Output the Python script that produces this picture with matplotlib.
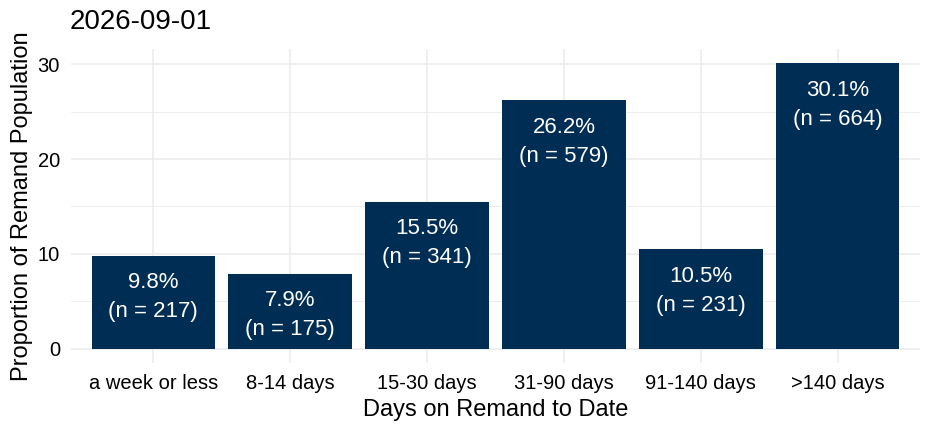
import matplotlib
matplotlib.use("Agg")
import matplotlib.pyplot as plt

categories = ["a week or less", "8-14 days", "15-30 days", "31-90 days", "91-140 days", ">140 days"]
percent = [9.8, 7.9, 15.5, 26.2, 10.5, 30.1]
counts = [217, 175, 341, 579, 231, 664]

plt.rcParams["font.family"] = ["Liberation Sans", "DejaVu Sans"]

fig = plt.figure(figsize=(9.3, 4.28), dpi=100)
ax = fig.add_axes([71 / 930, 1 - 363 / 428, (920 - 71) / 930, (363 - 49) / 428])

x = list(range(len(categories)))
ax.bar(x, percent, width=0.9, color="#002D54", zorder=2)

for i, (p, n) in enumerate(zip(percent, counts)):
    ax.annotate(f"{p}%\n(n = {n})", (i, p), xytext=(0, -12), textcoords="offset points",
                ha="center", va="top", color="white", fontsize=16, linespacing=1.5)

ymax = max(percent)
ax.set_ylim(-0.05 * ymax, ymax * 1.05)
ax.set_xlim(-0.6, len(categories) - 0.4)
ax.set_yticks([0, 10, 20, 30])
ax.set_yticks([5, 15, 25], minor=True)
ax.set_xticks(x)
ax.set_xticklabels(categories)

ax.grid(True, which="major", color="#EBEBEB", linewidth=1.1, zorder=0)
ax.grid(True, which="minor", axis="y", color="#EBEBEB", linewidth=0.6, zorder=0)
for s in ax.spines.values():
    s.set_visible(False)
ax.tick_params(which="both", length=0, labelsize=14.5, colors="#000000")
ax.tick_params(axis="x", pad=8)
ax.tick_params(axis="y", pad=8)

ax.set_xlabel("Days on Remand to Date", fontsize=17, labelpad=4)
ax.set_ylabel("Proportion of Remand Population", fontsize=17, labelpad=3)
fig.text(70 / 930, 1 - 22 / 428, "2026-09-01", fontsize=20, va="center", ha="left")

fig.savefig("out.png", dpi=100)
